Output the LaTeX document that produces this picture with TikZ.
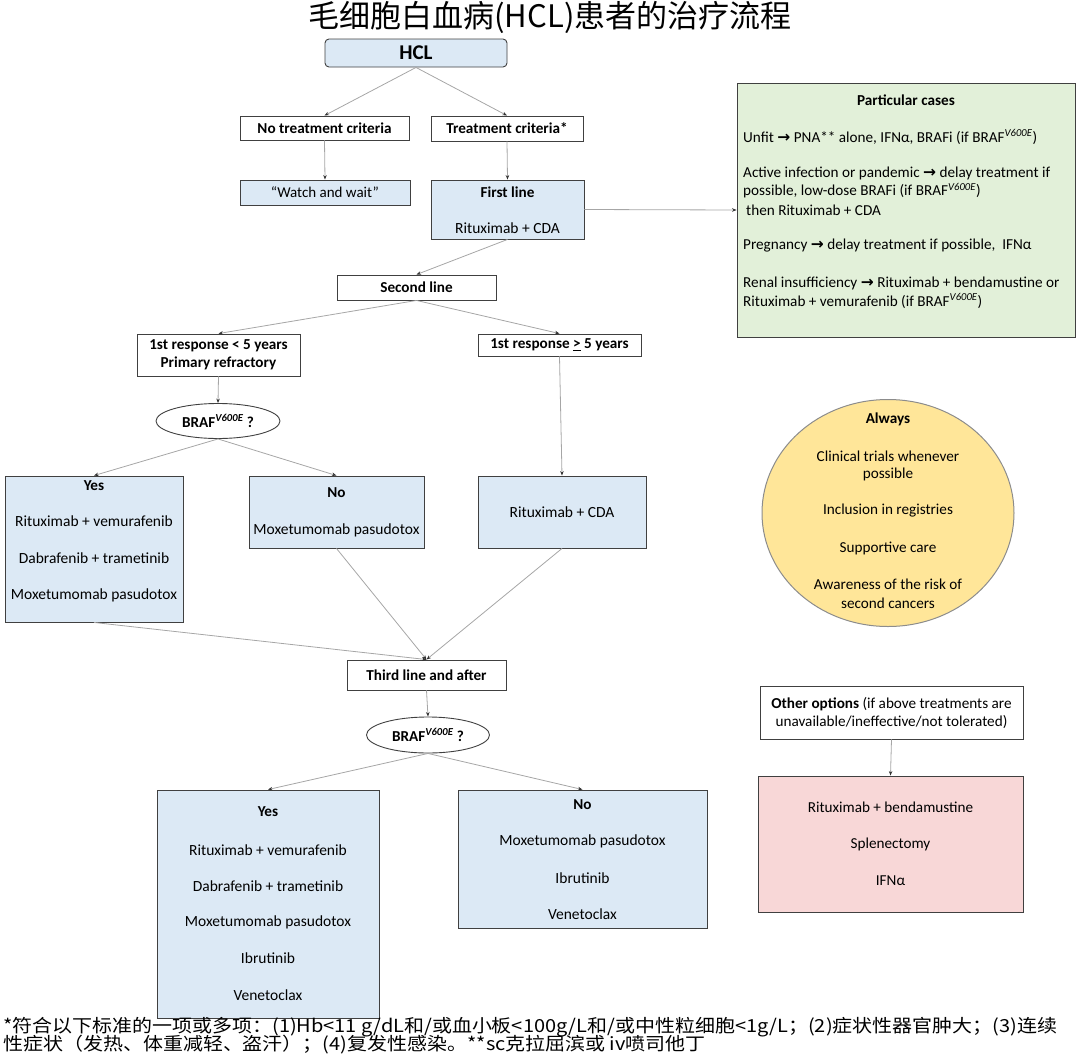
\documentclass[tikz,border=0pt]{standalone}
\usepackage{fontspec}
\setmainfont{Carlito}
\newfontfamily\cjk{Noto Sans CJK SC}
\newfontfamily\sym{DejaVu Sans}
\usetikzlibrary{arrows.meta,shapes.geometric}
\definecolor{bluef}{HTML}{DCE9F5}
\definecolor{greenf}{HTML}{E2F0D9}
\definecolor{yellowf}{HTML}{FFE699}
\definecolor{pinkf}{HTML}{F8D7D7}
\definecolor{boxline}{HTML}{404040}
\definecolor{circline}{HTML}{8C8C8C}
\definecolor{linec}{HTML}{A6A6A6}
\newcommand{\ar}{{\sym\bfseries\fontsize{15.5}{17}\selectfont →}}
\newcommand{\vsup}{\textsuperscript{\itshape V600E}}
\tikzset{
  box/.style={draw=boxline, line width=0.9pt, inner sep=0pt, align=center},
  bl/.style={box, fill=bluef},
  t/.style={inner sep=0pt, align=center, font=\fontsize{15.5}{18}\selectfont},
  tb/.style={inner sep=0pt, align=center, font=\fontsize{15.2}{18}\selectfont\bfseries},
  pc/.style={inner sep=0pt, anchor=west, font=\fontsize{15.2}{17}\selectfont},
  ct/.style={inner sep=0pt, align=center, font=\fontsize{15.2}{18}\selectfont},
  con/.style={draw=linec, line width=0.8pt, -{Stealth[length=4.5pt,width=3.5pt,color=black!80]}},
}
\begin{document}
\begin{tikzpicture}[x=1pt,y=-1pt]
\useasboundingbox (0,0) rectangle (1080,1055);
% title
\node[inner sep=0pt, font=\cjk\fontsize{31}{33}\selectfont] (title) at (550,17) {毛细胞白血病(HCL)患者的治疗流程};
% top boxes
\node[bl, rounded corners=4pt, minimum width=182, minimum height=28, font=\fontsize{21}{23}\selectfont\bfseries] (hcl) at (416,53) {HCL};
\node[box, minimum width=169, minimum height=24, font=\fontsize{15.2}{18}\selectfont\bfseries] (nt) at (324.5,128) {No treatment criteria};
\node[box, minimum width=152, minimum height=25, font=\fontsize{15.2}{18}\selectfont\bfseries] (tc) at (507,128.5) {Treatment criteria*};
\node[bl, minimum width=170, minimum height=25, font=\fontsize{15}{18}\selectfont] (ww) at (325,192.5) {“Watch and wait”};
\node[bl, minimum width=153, minimum height=59] (fl) at (507.5,209.5) {};
\node[tb] at (507.5,192) {First line};
\node[t] at (507.5,228) {Rituximab + CDA};
% particular cases
\node[box, fill=greenf, minimum width=338, minimum height=254] (pcb) at (906,210) {};
\node[tb] at (906,100) {Particular cases};
\node[pc] at (743,137) {Unfit \ar{} PNA** alone, IFNα, BRAFi (if BRAF\vsup)};
\node[pc] at (743,173) {Active infection or pandemic \ar{} delay treatment if};
\node[pc] at (743,191) {possible, low-dose BRAFi (if BRAF\vsup)};
\node[pc] at (746,210) {then Rituximab + CDA};
\node[pc] at (743,246) {Pregnancy \ar{} delay treatment if possible,\ \ IFNα};
\node[pc] at (743,283) {Renal insufficiency \ar{} Rituximab + bendamustine or};
\node[pc] at (743,301) {Rituximab + vemurafenib (if BRAF\vsup)};
% second line
\node[box, minimum width=159, minimum height=25, font=\fontsize{15.2}{18}\selectfont\bfseries] (sl) at (416.5,287.5) {Second line};
\node[box, minimum width=163, minimum height=42, font=\fontsize{15.2}{18.5}\selectfont\bfseries] (r1) at (218.5,355) {1st response < 5 years\\Primary refractory};
\node[box, minimum width=163, minimum height=22, font=\fontsize{15.2}{18}\selectfont\bfseries] (r2) at (559.5,345) {1st response \underline{>} 5 years};
\node[draw=boxline, line width=0.9pt, ellipse, inner sep=0pt, minimum width=124, minimum height=35, fill=white, font=\fontsize{15.2}{18}\selectfont\bfseries] (e1) at (218,421) {BRAF\vsup{} ?};
% second-line outcomes
\node[bl, minimum width=178, minimum height=146] (y1) at (94,549) {};
\node[tb] at (94,486) {Yes};
\node[t] at (94,521) {Rituximab + vemurafenib};
\node[t] at (94,558) {Dabrafenib + trametinib};
\node[t] at (94,595) {Moxetumomab pasudotox};
\node[bl, minimum width=175, minimum height=72] (n1) at (336.5,512) {};
\node[tb] at (336.5,493) {No};
\node[t] at (336.5,530) {Moxetumomab pasudotox};
\node[bl, minimum width=168, minimum height=72, font=\fontsize{15.5}{18}\selectfont] (rc) at (562,512) {Rituximab + CDA};
% always
\node[draw=circline, line width=1pt, ellipse, fill=yellowf, minimum width=252, minimum height=227, inner sep=0pt] (al) at (888,513) {};
\node[tb] at (888,419) {Always};
\node[ct] at (888,456) {Clinical trials whenever};
\node[ct] at (888,474) {possible};
\node[ct] at (888,511) {Inclusion in registries};
\node[ct] at (888,548) {Supportive care};
\node[ct] at (888,584) {Awareness of the risk of};
\node[ct] at (888,603) {second cancers};
% third line
\node[box, minimum width=159, minimum height=30, font=\fontsize{15.2}{18}\selectfont\bfseries] (tl) at (426.5,675) {Third line and after};
\node[draw=boxline, line width=0.9pt, ellipse, inner sep=0pt, minimum width=123, minimum height=36, fill=white, font=\fontsize{15.2}{18}\selectfont\bfseries] (e2) at (428,735) {BRAF\vsup{} ?};
\node[bl, minimum width=222, minimum height=228] (y2) at (268,904) {};
\node[tb] at (268,812) {Yes};
\node[t] at (268,850) {Rituximab + vemurafenib};
\node[t] at (268,886) {Dabrafenib + trametinib};
\node[t] at (268,922) {Moxetumomab pasudotox};
\node[t] at (268,958) {Ibrutinib};
\node[t] at (268,995) {Venetoclax};
\node[bl, minimum width=249, minimum height=138] (n2) at (582.5,859) {};
\node[tb] at (582.5,805) {No};
\node[t] at (582.5,841) {Moxetumomab pasudotox};
\node[t] at (582.5,878) {Ibrutinib};
\node[t] at (582.5,914) {Venetoclax};
% other options
\node[box, minimum width=263, minimum height=53, font=\fontsize{15.2}{18}\selectfont] (oo) at (891.5,712.5) {\textbf{Other options} (if above treatments are\\unavailable/ineffective/not tolerated)};
\node[box, fill=pinkf, minimum width=265, minimum height=136] (pk) at (890.5,844) {};
\node[ct] at (890.5,807) {Rituximab + bendamustine};
\node[ct] at (890.5,844) {Splenectomy};
\node[ct] at (890.5,881) {IFNα};
% connectors
\draw[con] (hcl.south) -- (nt.north);
\draw[con] (hcl.south) -- (tc.north);
\draw[con] (nt.south) -- (ww.north);
\draw[con] (tc.south) -- (fl.north);
\draw[con] (fl.east) -- (pcb.west);
\draw[con] (fl.south) -- (sl.north);
\draw[con] (sl.south) -- (r1.north);
\draw[con] (sl.south) -- (r2.north);
\draw[con] (r1.south) -- (e1.north);
\draw[con] (e1.south) -- (y1.north);
\draw[con] (e1.south) -- (n1.north);
\draw[con] (r2.south) -- (rc.north);
\draw[con] (y1.south) -- (tl.north);
\draw[con] (n1.south) -- (tl.north);
\draw[con] (rc.south) -- (tl.north);
\draw[con] (tl.south) -- (e2.north);
\draw[con] (e2.south) -- (y2.north);
\draw[con] (e2.south) -- (n2.north);
\draw[con] (oo.south) -- (pk.north);
% footnote
\node[inner sep=0pt, anchor=west, xscale=1.11, font=\cjk\fontsize{18}{20}\selectfont] (fn1) at (3,1027) {*符合以下标准的一项或多项：(1)Hb<11 g/dL和/或血小板<100g/L和/或中性粒细胞<1g/L；(2)症状性器官肿大；(3)连续};
\node[inner sep=0pt, anchor=west, xscale=1.11, font=\cjk\fontsize{18}{20}\selectfont] (fn2) at (3,1045) {性症状（发热、体重减轻、盗汗）；(4)复发性感染。**sc克拉屈滨或 iv喷司他丁};
\end{tikzpicture}
\end{document}
